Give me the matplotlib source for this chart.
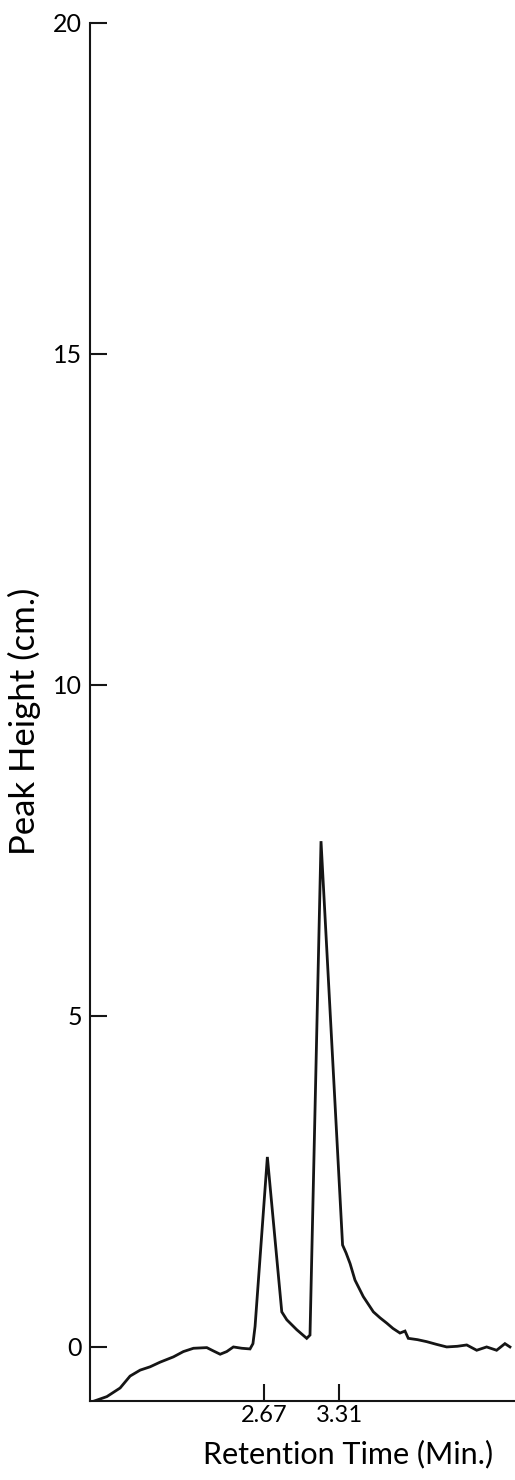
import matplotlib
matplotlib.use("Agg")
import matplotlib.pyplot as plt

# chromatogram trace (minutes, cm)
ret_time = [1.215, 1.328, 1.441, 1.526, 1.612, 1.697, 1.782, 1.896, 1.981, 2.067,
            2.181, 2.237, 2.295, 2.351, 2.408, 2.48, 2.55, 2.575, 2.593, 2.698,
            2.821, 2.864, 2.949, 3.034, 3.062, 3.156, 3.34, 3.37, 3.404, 3.446,
            3.517, 3.603, 3.66, 3.717, 3.77, 3.83, 3.873, 3.901, 3.98, 4.058,
            4.14, 4.229, 4.32, 4.4, 4.485, 4.57, 4.655, 4.726, 4.769]
peak_height = [-0.82, -0.75, -0.62, -0.44, -0.35, -0.30, -0.23, -0.15, -0.07, -0.02,
               -0.01, -0.06, -0.11, -0.07, 0.0, -0.02, -0.03, 0.05, 0.31, 2.87,
               0.53, 0.41, 0.26, 0.13, 0.18, 7.64, 1.54, 1.42, 1.26, 1.01,
               0.76, 0.53, 0.44, 0.36, 0.28, 0.21, 0.24, 0.13, 0.11, 0.08,
               0.04, 0.0, 0.01, 0.03, -0.05, 0.0, -0.05, 0.05, 0.0]

x_ticks = [2.67, 3.31]
x_tick_labels = ['2.67', '3.31']
y_ticks = [0, 5, 10, 15, 20]

plt.rcParams['font.family'] = ['Lato', 'DejaVu Sans']

fig = plt.figure(figsize=(5.15, 14.8), dpi=100)
ax = fig.add_axes([0.175, 0.0534, 0.825, 0.9311])

ax.plot(ret_time, peak_height, color='#151515', lw=2.0, solid_joinstyle='miter')

ax.set_xlim(1.185, 4.812)
ax.set_ylim(-0.816, 20)

for s in ['top', 'right']:
    ax.spines[s].set_visible(False)
for s in ['left', 'bottom']:
    ax.spines[s].set_linewidth(1.5)
    ax.spines[s].set_color('#151515')

ax.set_yticks(y_ticks)
ax.set_yticklabels([str(v) for v in y_ticks], fontsize=18)
ax.set_xticks(x_ticks)
ax.set_xticklabels(x_tick_labels, fontsize=17)
ax.tick_params(axis='both', direction='in', length=12, width=1.5, color='#151515')
ax.tick_params(axis='y', pad=6)
ax.tick_params(axis='x', pad=3)

ax.set_xlabel('Retention Time (Min.)', fontsize=22)
ax.xaxis.set_label_coords(0.607, -0.028)
ax.set_ylabel('Peak Height (cm.)', fontsize=25)
ax.yaxis.set_label_coords(-0.115, 0.493)

fig.savefig('out.png', dpi=100)
